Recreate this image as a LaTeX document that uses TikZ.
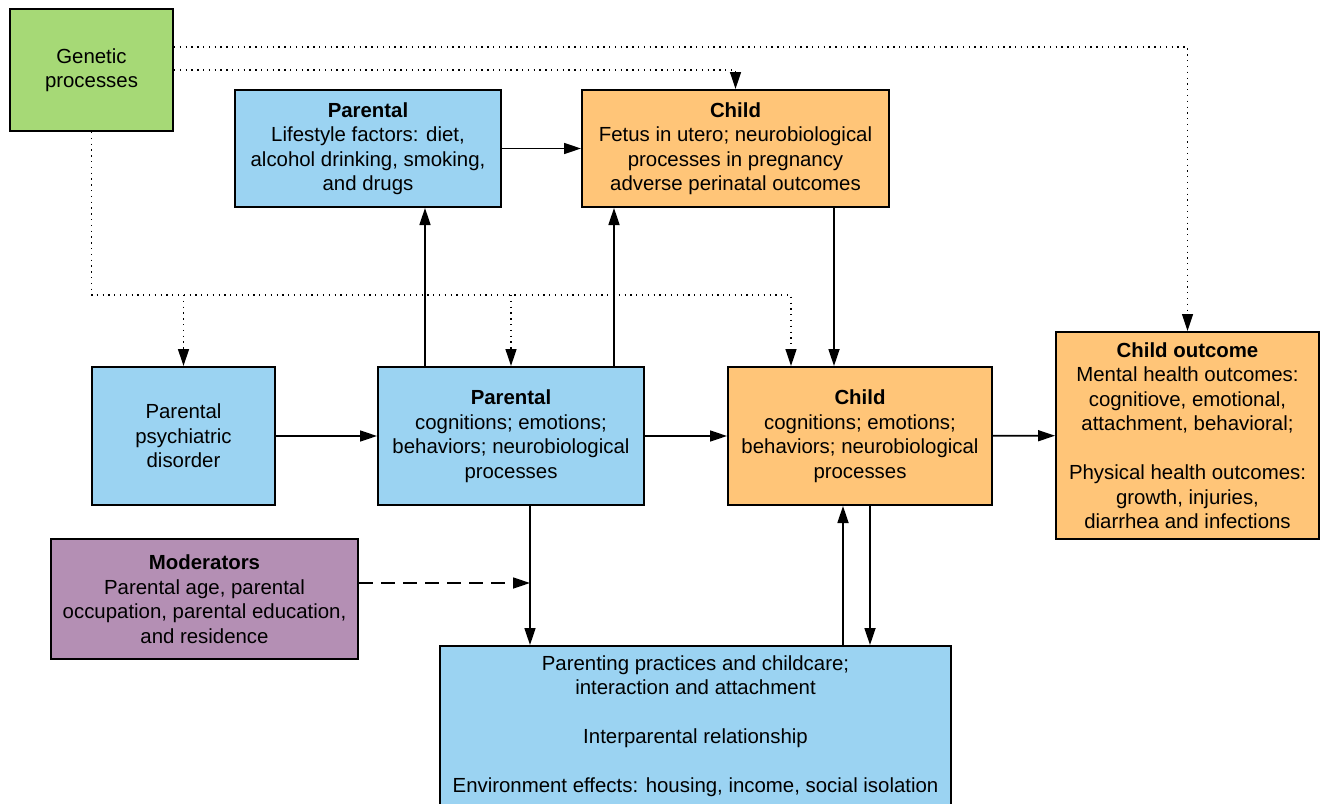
\documentclass[tikz,border=0pt]{standalone}
\usepackage{fontspec}
\setmainfont{Liberation Sans}
\usetikzlibrary{arrows.meta, positioning}

\definecolor{genegreen}{RGB}{166,217,118}
\definecolor{parblue}{RGB}{155,211,242}
\definecolor{kidorange}{RGB}{255,197,120}
\definecolor{modpurple}{RGB}{180,143,180}

\begin{document}
\begin{tikzpicture}[x=1pt, y=-1pt,
    box/.style={rectangle, draw, line width=2pt, align=center, inner sep=0pt, font=\fontsize{20.4}{24.5}\selectfont},
    arr/.style={-{Triangle[length=17pt, width=11pt]}, line width=1.7pt},
    gen/.style={arr, line width=1.3pt, dash pattern=on 1.3pt off 4.5pt},
]
    \useasboundingbox (0,0) rectangle (1322,803);

    % Genetic and upper row
    \node[box, fill=genegreen, minimum width=163pt, minimum height=122pt] at (91.5,70) (genetic) {Genetic\\processes};
    \node[box, fill=parblue, minimum width=266pt, minimum height=117pt] at (368,148.5) (lifeP) {\textbf{Parental}\\Lifestyle factors: diet,\\alcohol drinking, smoking,\\and drugs};
    \node[box, fill=kidorange, minimum width=307pt, minimum height=117pt] at (735.5,148.5) (fetus) {\textbf{Child}\\Fetus in utero; neurobiological\\processes in pregnancy\\adverse perinatal outcomes};

    % Middle row
    \node[box, fill=parblue, minimum width=183pt, minimum height=138pt] at (183.5,436) (psych) {Parental\\psychiatric\\disorder};
    \node[box, fill=parblue, minimum width=266pt, minimum height=138pt] at (511,436) (parmid) {\textbf{Parental}\\cognitions; emotions;\\behaviors; neurobiological\\processes};
    \node[box, fill=kidorange, minimum width=264pt, minimum height=138pt] at (860,436) (kidmid) {\textbf{Child}\\cognitions; emotions;\\behaviors; neurobiological\\processes};
    \node[box, fill=kidorange, minimum width=263pt, minimum height=207pt] at (1187.5,435.5) (outcome) {\textbf{Child outcome}\\Mental health outcomes:\\cognitiove, emotional,\\attachment, behavioral;\\[24.5pt]Physical health outcomes:\\growth, injuries,\\diarrhea and infections};

    % Lower row
    \node[box, fill=modpurple, minimum width=307pt, minimum height=120pt] at (204.5,599) (moder) {\textbf{Moderators}\\Parental age, parental\\occupation, parental education,\\and residence};
    \node[box, fill=parblue, minimum width=511pt, minimum height=160pt] at (695.5,726) (practice) {Parenting practices and childcare;\\interaction and attachment\\[24.5pt]Interparental relationship\\[24.5pt]Environment effects: housing, income, social isolation};

    % Genetic links
    \coordinate (gsplit) at (91.5,295);
    \draw[gen] ([yshift=23pt]genetic.east) -| (outcome.north);
    \draw[gen] (genetic.east) -| (fetus.north);
    \draw[gen] (genetic.south) -- (gsplit) -| ([xshift=64pt]kidmid.north west);
    \draw[gen] (gsplit -| psych.north) -- (psych.north);
    \draw[gen] (gsplit -| parmid.north) -- (parmid.north);

    % Main links
    \draw[arr] (lifeP.east) -- (fetus.west);
    \draw[arr] ([xshift=48pt]parmid.north west) -- ([xshift=48pt]parmid.north west |- lifeP.south);
    \draw[arr] ([xshift=-31pt]parmid.north east) -- ([xshift=-31pt]parmid.north east |- fetus.south);
    \draw[arr] ([xshift=-56pt]fetus.south east) -- ([xshift=-56pt]fetus.south east |- kidmid.north);
    \draw[arr] (psych) -- (parmid);
    \draw[arr] (parmid) -- (kidmid);
    \draw[arr] (kidmid) -- (outcome);

    \coordinate (pjoin) at ([xshift=19pt]parmid.south);
    \draw[arr] (pjoin) -- (pjoin |- practice.north);
    \draw[arr, dash pattern=on 14pt off 8pt] ([yshift=16pt]moder.east) -- ([yshift=16pt]moder.east -| pjoin);
    \draw[arr] ([xshift=-17pt]kidmid.south |- practice.north) -- ([xshift=-17pt]kidmid.south);
    \draw[arr] ([xshift=10pt]kidmid.south) -- ([xshift=10pt]kidmid.south |- practice.north);

\end{tikzpicture}
\end{document}
